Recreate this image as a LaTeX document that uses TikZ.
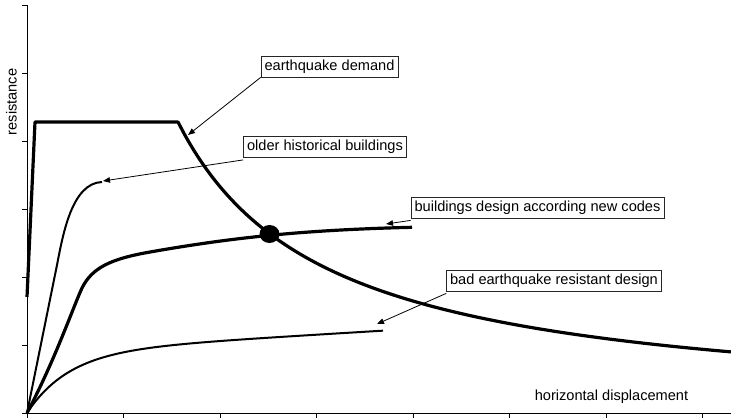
\documentclass[tikz,border=0pt]{standalone}
\usepackage{fontspec}
\setmainfont{Liberation Sans}
\usetikzlibrary{arrows.meta}
\begin{document}
\begin{tikzpicture}[x=1bp,y=-1bp,
  every node/.style={font=\fontsize{14.6bp}{17bp}\selectfont},
  lbl/.style={draw=black!85,line width=0.8bp,fill=white,inner xsep=3.5bp,inner ysep=0bp,minimum height=21bp},
  axis/.style={line width=0.9bp},
  thickc/.style={line width=3.2bp,line join=round},
  thinc/.style={line width=2bp,line join=round},
  leader/.style={line width=0.8bp,-{Triangle[length=7bp,width=5.5bp]}}]
\useasboundingbox (0,0) rectangle (731,417);
% axes
\draw[axis] (27,5) -- (27,413) -- (731,413);
\foreach \yy in {5,73,141,209,277,345,413} \draw[axis] (22,\yy) -- (27,\yy);
\foreach \xx in {27,123.5,220,316.5,413,509.5,606,702.5} \draw[axis] (\xx,413) -- (\xx,418);
\node[rotate=90,inner sep=0pt] (ylab) at (11.5,102) {resistance};
\node[inner sep=0pt] (xlab) at (611.5,396.5) {horizontal displacement};
% earthquake demand
\draw[thickc] (27,297) -- (35,122) -- (178,122)
  -- plot[domain=178:731,samples=80,smooth] (\x,{413-427.77/((\x-31)/100)});
% older historical buildings
\draw[thinc] (27,413) -- (57,265) .. controls (63,234) and (72,183) .. (102,182);
% new codes
\draw[thickc] (27,413) .. controls (55,360) and (72,310) .. (82,288)
  .. controls (92,268) and (110,259) .. (150,252)
  .. controls (230,238) and (300,230) .. (412,227.3);
% bad design
\draw[thinc] plot[domain=0:356,samples=90,smooth] ({27+\x},{413-61*(1-exp(-\x/42))-0.06*\x});
% intersection dot
\fill (269.5,234) ellipse [x radius=10, y radius=9];
% labels
\node[lbl] (ed) at (329.5,66.5) {earthquake demand};
\node[lbl] (ob) at (325,146.5) {older historical buildings};
\node[lbl] (nc) at (537.5,208) {buildings design according new codes};
\node[lbl] (bd) at (554,281) {bad earthquake resistant design};
\coordinate (edt) at (188,135);
\coordinate (obt) at (103,181);
\coordinate (nct) at (386,224);
\coordinate (bdt) at (377,324);
\draw[leader] (ed.south west) -- (edt);
\draw[leader] ([yshift=-2.5bp]ob.south west) -- (obt);
\draw[leader] ([yshift=-1.5bp]nc.south west) -- (nct);
\draw[leader] ([yshift=-1.5bp]bd.south west) -- (bdt);
\end{tikzpicture}
\end{document}
